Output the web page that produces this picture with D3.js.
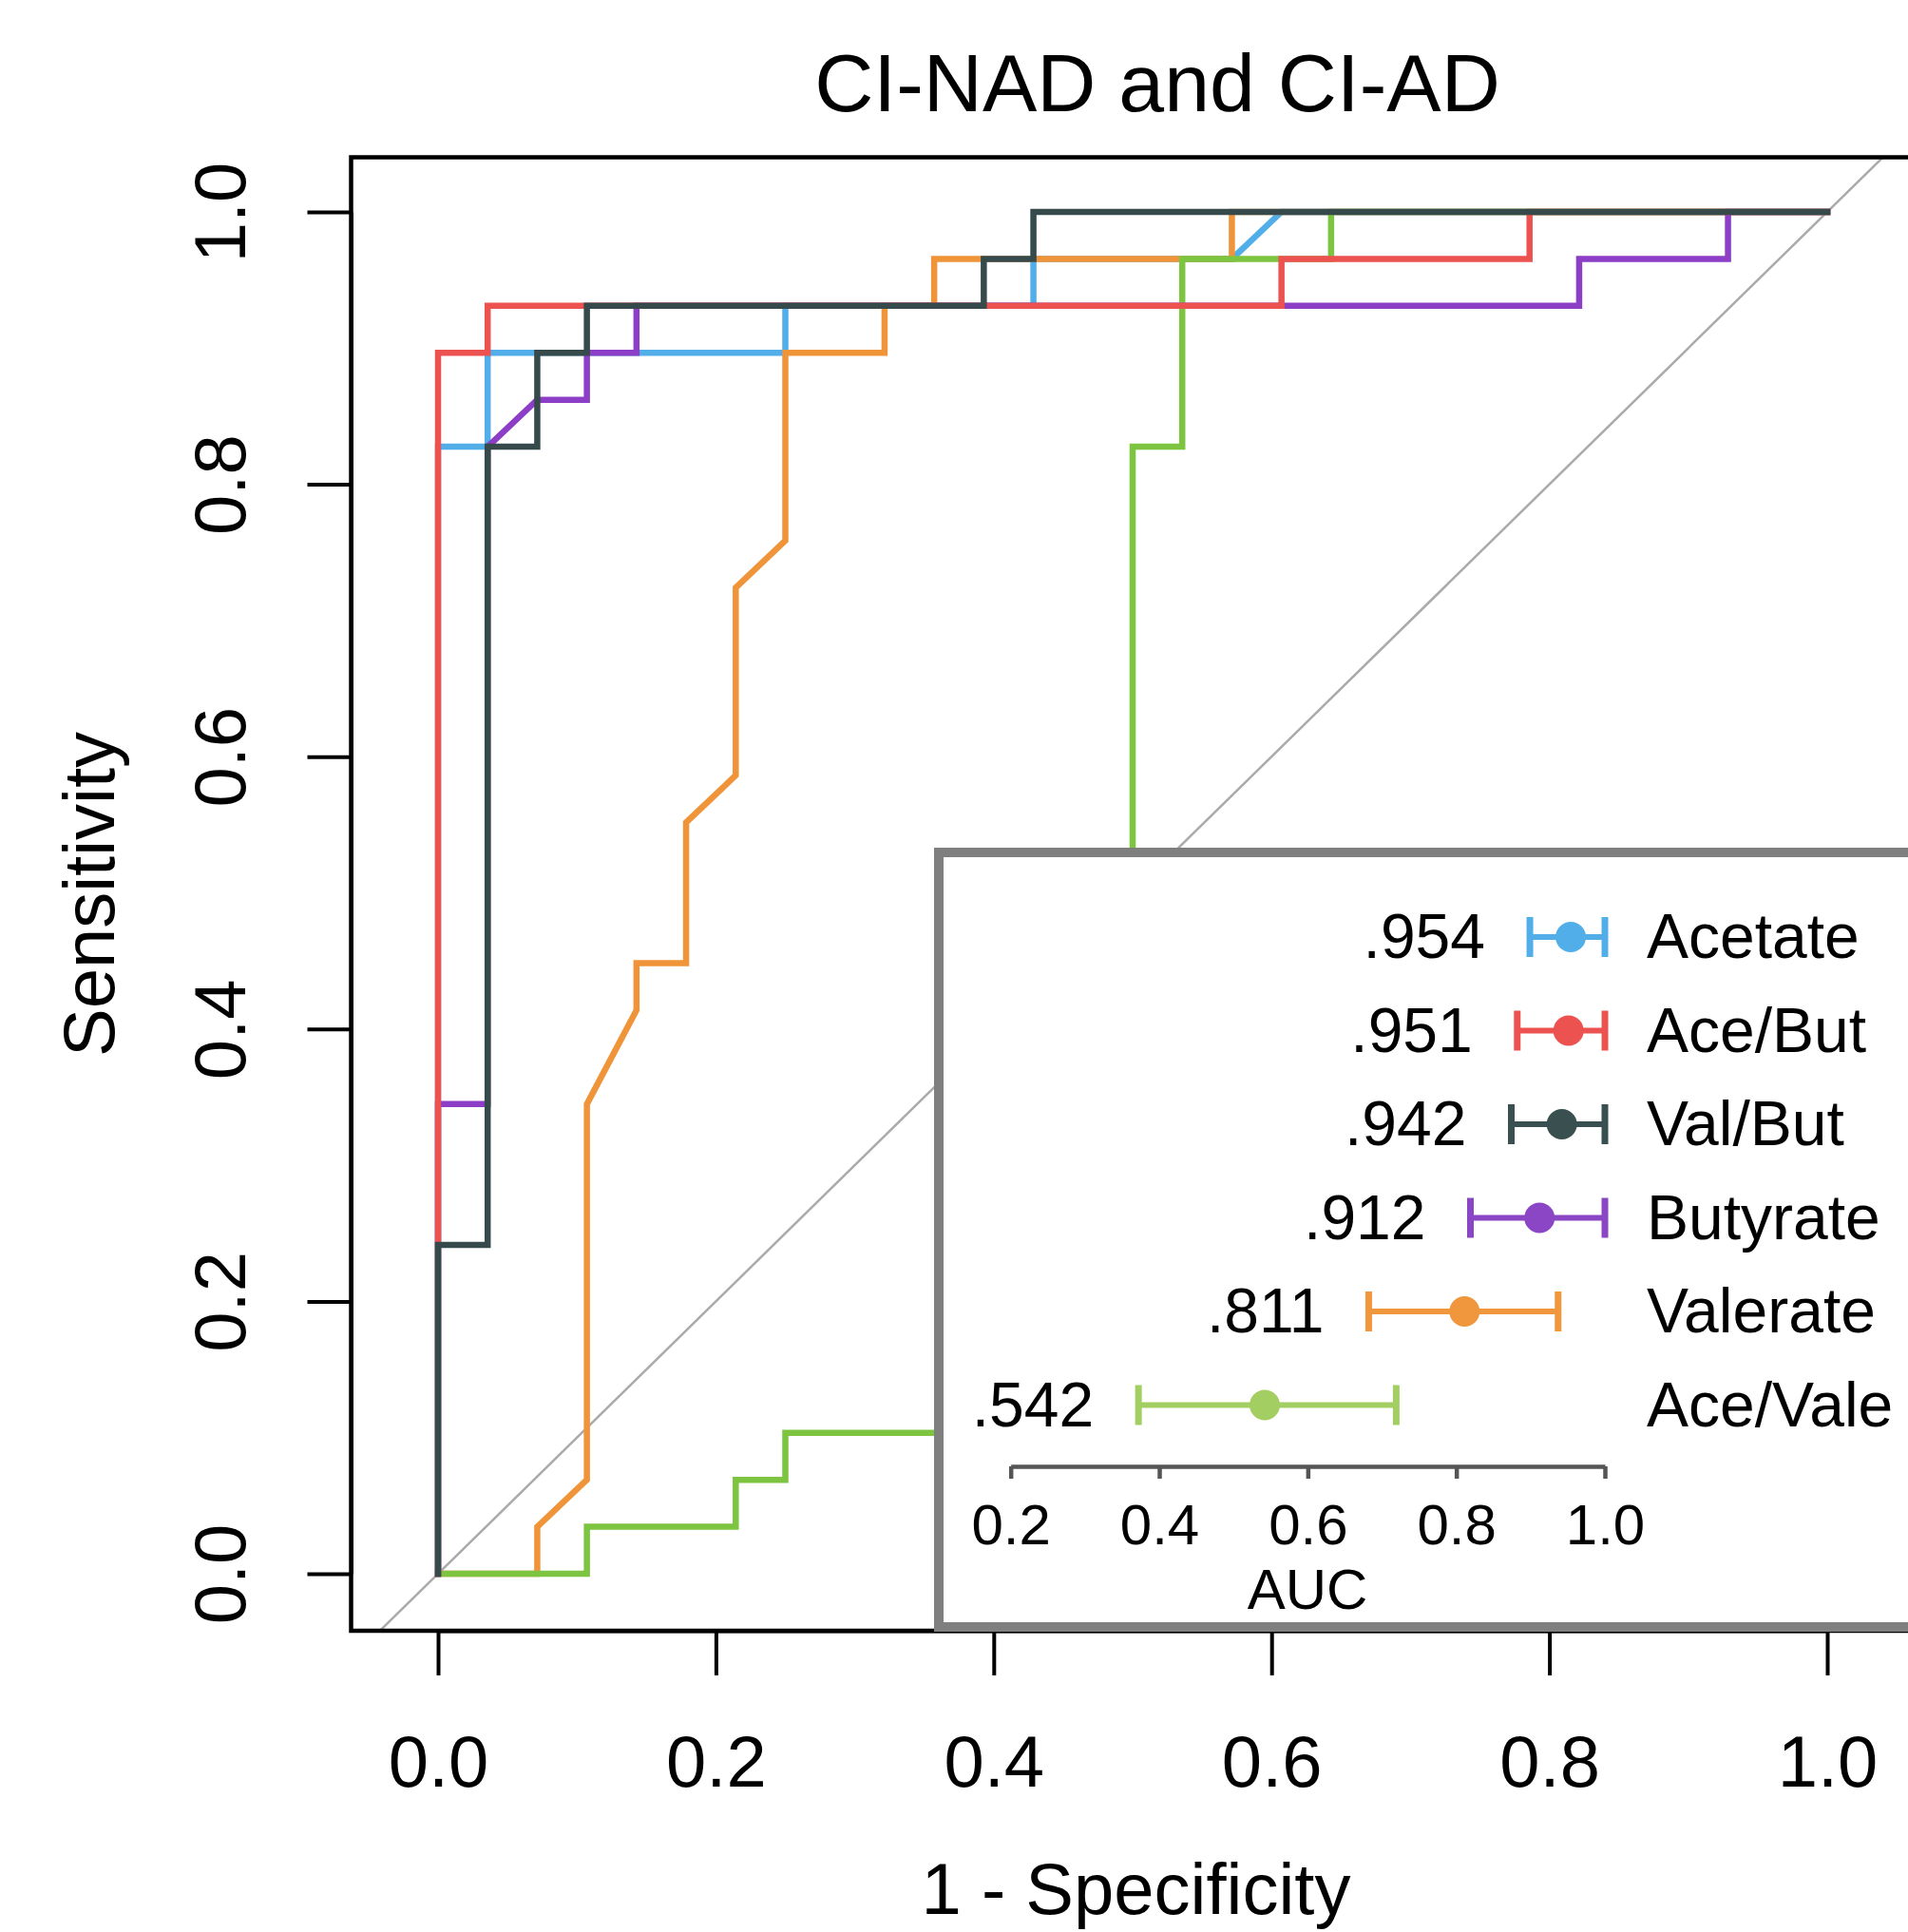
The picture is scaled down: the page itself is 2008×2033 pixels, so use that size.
<!DOCTYPE html>
<html>
<head>
<meta charset="utf-8">
<script src="https://cdn.jsdelivr.net/npm/d3@7"></script>
<style>
body { margin: 0; background: #fff; }
svg { display: block; font-family: "Liberation Sans", Arial, sans-serif; }
</style>
</head>
<body>
<svg width="2008" height="2033"></svg>
<script>
// ROC steps kept as counts: 28 controls (false positives), 29 cases (true positives)
const nNeg = 28;
const nPos = 29;

const series = ["Acetate", "Ace/But", "Val/But", "Butyrate", "Valerate", "Ace/Vale"];
const aucValues = [0.954, 0.951, 0.942, 0.912, 0.811, 0.542];
const aucLabels = [".954", ".951", ".942", ".912", ".811", ".542"];
const ciLow = [0.899, 0.882, 0.874, 0.819, 0.682, 0.372];
const ciHigh = [1.0, 1.0, 1.0, 1.0, 0.937, 0.719];
const lineColors = ["#52aee8", "#ec5250", "#364a4c", "#8c3ec6", "#f0943a", "#7dc540"];
const legendColors = ["#52aee8", "#ec5250", "#3a4f50", "#8a46c4", "#f0963c", "#a3ce62"];

const acetateFP = [0, 0, 1, 1, 7, 7, 12, 12, 16, 17, 28];
const acetateTP = [0, 24, 24, 26, 26, 27, 27, 28, 28, 29, 29];
const aceButFP = [0, 0, 1, 1, 17, 17, 22, 22, 28];
const aceButTP = [0, 26, 26, 27, 27, 28, 28, 29, 29];
const valButFP = [0, 0, 1, 1, 2, 2, 3, 3, 11, 11, 12, 12, 28];
const valButTP = [0, 7, 7, 24, 24, 26, 26, 27, 27, 28, 28, 29, 29];
const butyrateFP = [0, 0, 1, 1, 2, 3, 3, 4, 4, 23, 23, 26, 26, 28];
const butyrateTP = [0, 10, 10, 24, 25, 25, 26, 26, 27, 27, 28, 28, 29, 29];
const valerateFP = [0, 2, 2, 3, 3, 4, 4, 5, 5, 6, 6, 7, 7, 9, 9, 10, 10, 16, 16, 28];
const valerateTP = [0, 0, 1, 2, 10, 12, 13, 13, 16, 17, 21, 22, 26, 26, 27, 27, 28, 28, 29, 29];
const aceValeFP = [0, 3, 3, 6, 6, 7, 7, 11, 11, 12, 12, 13, 13, 14, 14, 15, 15, 18, 18, 28];
const aceValeTP = [0, 0, 1, 1, 2, 2, 3, 3, 6, 6, 8, 8, 11, 11, 24, 24, 28, 28, 29, 29];

const xTicks = [0, 0.2, 0.4, 0.6, 0.8, 1.0];
const yTicks = [0, 0.2, 0.4, 0.6, 0.8, 1.0];
const aucTicks = [0.2, 0.4, 0.6, 0.8, 1.0];

const curves = {
	"Acetate": [acetateFP, acetateTP],
	"Ace/But": [aceButFP, aceButTP],
	"Val/But": [valButFP, valButTP],
	"Butyrate": [butyrateFP, butyrateTP],
	"Valerate": [valerateFP, valerateTP],
	"Ace/Vale": [aceValeFP, aceValeTP]
};
const drawOrder = ["Acetate", "Valerate", "Ace/Vale", "Butyrate", "Ace/But", "Val/But"];

var svg = d3.select("svg");

const x = d3.scaleLinear().domain([0, 1]).range([461, 1923]);
const y = d3.scaleLinear().domain([0, 1]).range([1656, 223]);
const box = { left: 369.5, top: 165.5, right: 2015, bottom: 1716 };

svg.append("clipPath")
	.attr("id", "plotclip")
	.append("rect")
	.attr("x", box.left)
	.attr("y", box.top)
	.attr("width", box.right - box.left)
	.attr("height", box.bottom - box.top);

// chance line
svg.append("line")
	.attr("clip-path", "url(#plotclip)")
	.attr("x1", x(-0.1))
	.attr("y1", y(-0.1))
	.attr("x2", x(1.1))
	.attr("y2", y(1.1))
	.attr("stroke", "#aaaaaa")
	.attr("stroke-width", 2.5);

const line = d3.line()
	.x(d => x(d[0]))
	.y(d => y(d[1]));

drawOrder.forEach(name => {
	let i = series.indexOf(name);
	let fp = curves[name][0];
	let tp = curves[name][1];
	let pts = fp.map((f, k) => [f / nNeg, tp[k] / nPos]);
	svg.append("path")
		.attr("d", line(pts))
		.attr("fill", "none")
		.attr("stroke", lineColors[i])
		.attr("stroke-width", 6.5)
		.attr("stroke-linejoin", "miter")
		.attr("stroke-linecap", "square");
});

svg.append("rect")
	.attr("x", box.left)
	.attr("y", box.top)
	.attr("width", box.right - box.left)
	.attr("height", box.bottom - box.top)
	.attr("fill", "none")
	.attr("stroke", "#000")
	.attr("stroke-width", 4.5);

const xAxis = svg.append("g")
	.attr("transform", `translate(0,${box.bottom})`)
	.call(d3.axisBottom(x)
		.tickValues(xTicks)
		.tickFormat(d3.format(".1f"))
		.tickSize(47)
		.tickSizeOuter(0)
		.tickPadding(63));

const yAxis = svg.append("g")
	.attr("transform", `translate(${box.left},0)`)
	.call(d3.axisLeft(y)
		.tickValues(yTicks)
		.tickFormat(d3.format(".1f"))
		.tickSize(46)
		.tickSizeOuter(0));

yAxis.selectAll(".tick text")
	.attr("x", 0)
	.attr("dy", null)
	.attr("text-anchor", "middle")
	.attr("transform", "translate(-111.5,0) rotate(-90)");

[xAxis, yAxis].forEach(g => {
	g.attr("font-size", 76).attr("font-family", null);
	g.selectAll("line, path").attr("stroke", "#000").attr("stroke-width", 4);
	g.selectAll("text").attr("fill", "#000");
});

svg.append("text")
	.attr("x", 1218)
	.attr("y", 117)
	.attr("text-anchor", "middle")
	.attr("font-size", 86)
	.text("CI-NAD and CI-AD");

svg.append("text")
	.attr("x", 1195.5)
	.attr("y", 2014)
	.attr("text-anchor", "middle")
	.attr("font-size", 76)
	.text("1 - Specificity");

svg.append("text")
	.attr("transform", "translate(120,941) rotate(-90)")
	.attr("text-anchor", "middle")
	.attr("font-size", 76)
	.text("Sensitivity");

// legend with AUC and confidence intervals
const legend = svg.append("g");

legend.append("rect")
	.attr("x", 988)
	.attr("y", 897)
	.attr("width", 1100)
	.attr("height", 815)
	.attr("fill", "#fff")
	.attr("stroke", "#7f7f7f")
	.attr("stroke-width", 10);

const aucX = d3.scaleLinear().domain([0.2, 1]).range([1063.7, 1689]);
const rowY = d3.scaleLinear().domain([0, series.length - 1]).range([986, 1478.5]);

const rows = legend.selectAll("g.row")
	.data(series)
	.join("g")
	.attr("class", "row")
	.attr("transform", (d, i) => `translate(0,${rowY(i)})`);

rows.append("line")
	.attr("x1", (d, i) => aucX(ciLow[i]))
	.attr("x2", (d, i) => aucX(ciHigh[i]))
	.attr("stroke", (d, i) => legendColors[i])
	.attr("stroke-width", 6);

rows.selectAll("line.cap")
	.data((d, i) => [[ciLow[i], legendColors[i]], [ciHigh[i], legendColors[i]]])
	.join("line")
	.attr("class", "cap")
	.attr("x1", d => aucX(d[0]))
	.attr("x2", d => aucX(d[0]))
	.attr("y1", -21)
	.attr("y2", 21)
	.attr("stroke", d => d[1])
	.attr("stroke-width", 7);

rows.append("circle")
	.attr("cx", (d, i) => aucX(aucValues[i]))
	.attr("r", 16)
	.attr("fill", (d, i) => legendColors[i]);

rows.append("text")
	.attr("x", (d, i) => aucX(ciLow[i]) - 47)
	.attr("y", 22)
	.attr("text-anchor", "end")
	.attr("font-size", 66)
	.text((d, i) => aucLabels[i]);

rows.append("text")
	.attr("x", 1733)
	.attr("y", 22)
	.attr("font-size", 66)
	.text(d => d);

const aucAxis = legend.append("g")
	.attr("transform", "translate(0,1543)")
	.call(d3.axisBottom(aucX)
		.tickValues(aucTicks)
		.tickFormat(d3.format(".1f"))
		.tickSize(13)
		.tickSizeOuter(0)
		.tickPadding(26));

aucAxis.attr("font-size", 60).attr("font-family", null);
aucAxis.selectAll("line, path").attr("stroke", "#555").attr("stroke-width", 4.5);
aucAxis.selectAll("text").attr("fill", "#000");

legend.append("text")
	.attr("x", 1376)
	.attr("y", 1693)
	.attr("text-anchor", "middle")
	.attr("font-size", 60)
	.text("AUC");
</script>
</body>
</html>
